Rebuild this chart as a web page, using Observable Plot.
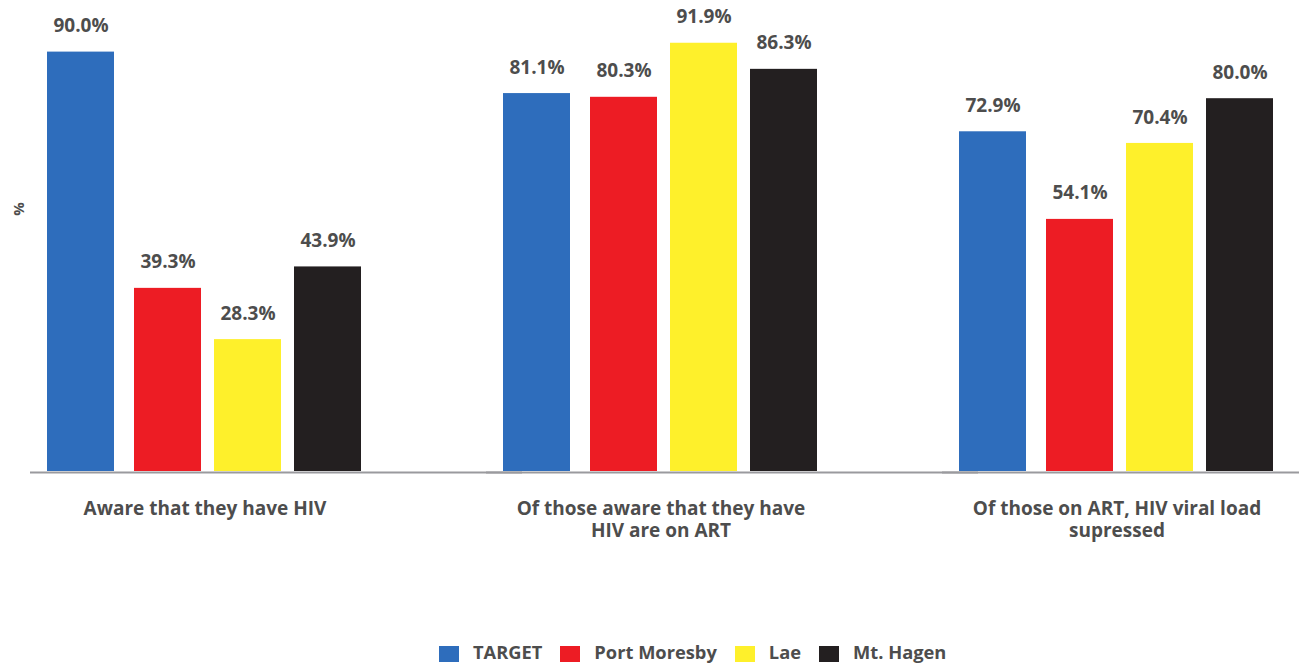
<!DOCTYPE html>
<html><head><meta charset="utf-8">
<script src="https://cdn.jsdelivr.net/npm/d3@7"></script>
<script src="https://cdn.jsdelivr.net/npm/@observablehq/plot@0.6"></script>
<style>
body{margin:0;background:#fff;font-family:"Open Sans",sans-serif;}
#wrap{position:relative;width:1299px;height:663px;overflow:hidden;}
#ylab{position:absolute;left:11px;top:199px;font-weight:700;font-size:15px;color:#4d4d4d;transform:rotate(-90deg);line-height:20px;}
#legend{position:absolute;top:643px;left:439px;display:flex;align-items:flex-start;font-weight:700;font-size:18.3px;color:#4d4d4d;line-height:18px;}
#legend .sw{width:20px;height:16px;margin-right:14px;margin-top:3px;}
#legend .lb{margin-right:18px;white-space:nowrap;}
</style></head>
<body>
<div id="wrap">
  <div id="chart"></div>
  <div id="ylab">%</div>
  <div id="legend"></div>
</div>
<script>
const groups = ["Aware that they have HIV", "Of those aware that they have HIV are on ART", "Of those on ART, HIV viral load supressed"];
const groupLabels = ["Aware that they have HIV", "Of those aware that they have\nHIV are on ART", "Of those on ART, HIV viral load\nsupressed"];
const series = ["TARGET", "Port Moresby", "Lae", "Mt. Hagen"];
const target = [90.0, 81.1, 72.9];
const portMoresby = [39.3, 80.3, 54.1];
const lae = [28.3, 91.9, 70.4];
const mtHagen = [43.9, 86.3, 80.0];
const colors = ["#2e6dbc", "#ed1c24", "#fef02b", "#231f20"];

const valuesBySeries = [target, portMoresby, lae, mtHagen];
const data = [];
groups.forEach((g, gi) => series.forEach((s, si) => data.push({group: g, series: s, value: valuesBySeries[si][gi]})));
const isTarget = d => d.series === "TARGET";
const notTarget = d => d.series !== "TARGET";

const labelStyle = {fx: "group", x: "series", y: "value", text: d => d.value.toFixed(1) + "%",
  dy: -26, fontSize: 19, fontWeight: "bold", fill: "#4d4d4d"};

const chart = Plot.plot({
  width: 1299, height: 640,
  marginLeft: 29, marginRight: 0, marginTop: 5, marginBottom: 169,
  style: {fontFamily: "Open Sans, sans-serif", background: "#fff"},
  fx: {domain: groups, paddingInner: 0.322, paddingOuter: 0.052, label: null, axis: null},
  x: {domain: series, paddingInner: 0.1615, paddingOuter: 0, axis: null},
  y: {domain: [0, 100], axis: null},
  color: {domain: series, range: colors},
  marks: [
    Plot.barY(data, {filter: isTarget, fx: "group", x: "series", y: "value", fill: "series", dx: -7}),
    Plot.barY(data, {filter: notTarget, fx: "group", x: "series", y: "value", fill: "series"}),
    Plot.ruleY([0], {stroke: "#9a9a9e", strokeWidth: 2, dy: 1, insetLeft: -23, insetRight: -160}),
    Plot.text(data, {...labelStyle, filter: isTarget, dx: -7}),
    Plot.text(data, {...labelStyle, filter: notTarget}),
    Plot.axisFx({anchor: "bottom", tickSize: 0, tickPadding: 27, label: null,
      tickFormat: d => groupLabels[groups.indexOf(d)],
      fontSize: 19, fontWeight: "bold", fill: "#4d4d4d", lineHeight: 1.2, dx: -3})
  ]
});
document.getElementById("chart").appendChild(chart);

const legend = document.getElementById("legend");
series.forEach((s, i) => {
  const sw = document.createElement("div");
  sw.className = "sw"; sw.style.background = colors[i];
  const lb = document.createElement("div");
  lb.className = "lb"; lb.textContent = s;
  legend.appendChild(sw); legend.appendChild(lb);
});
</script>
</body></html>
